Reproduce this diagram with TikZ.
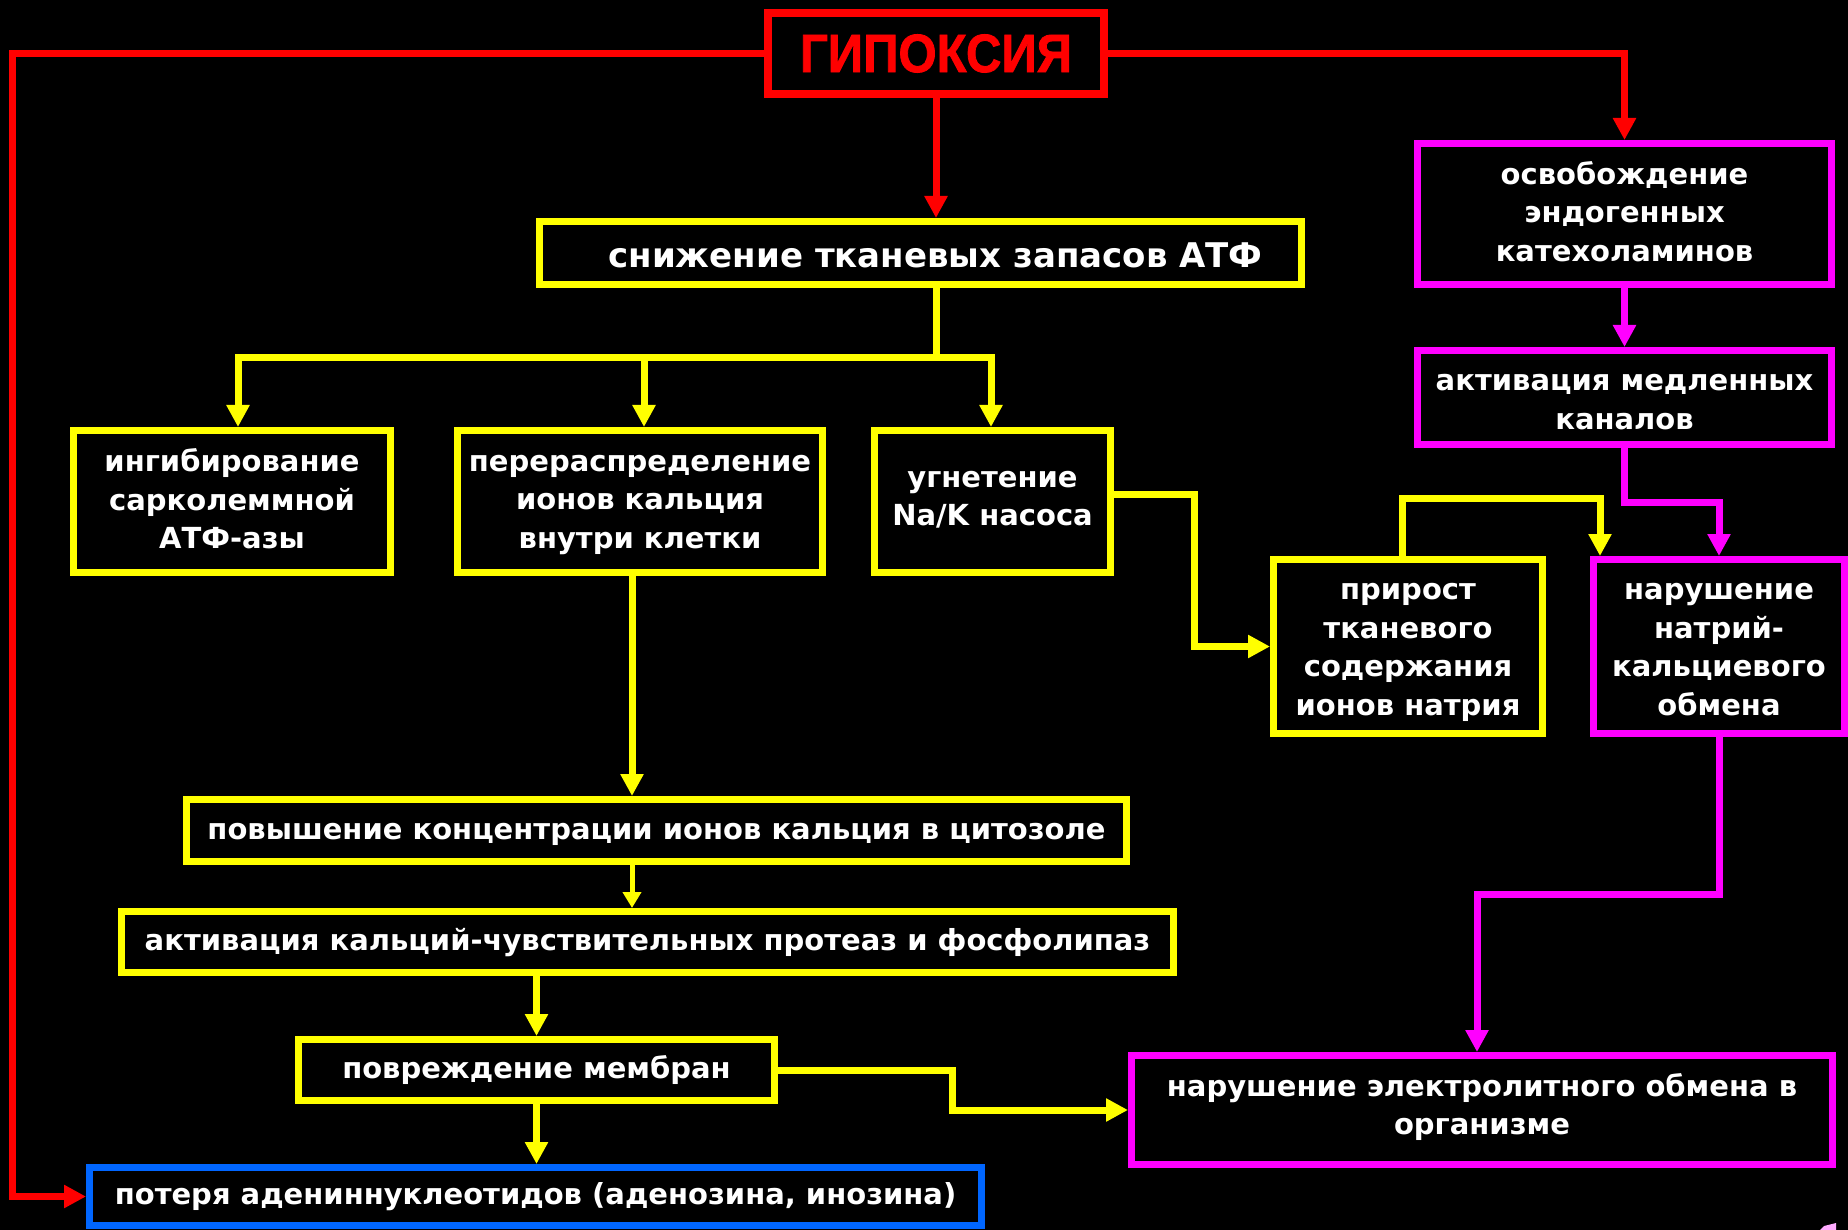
\documentclass[tikz,border=0pt]{standalone}
\usepackage{fontspec}
\setmainfont{DejaVu Sans}
\newfontfamily\hypfont{Liberation Sans Bold}[FakeBold=1.5]
\usetikzlibrary{arrows.meta,calc}
\definecolor{cred}{RGB}{255,0,0}
\definecolor{cyel}{RGB}{255,255,0}
\definecolor{cmag}{RGB}{255,0,255}
\definecolor{cblue}{RGB}{0,102,255}
\definecolor{cpink}{RGB}{255,170,255}
\newcommand\ls{\rule[-6.1pt]{0pt}{29.3pt}}
\begin{document}
\begin{tikzpicture}[x=1pt,y=-1pt,
  box/.style={draw, line width=7pt, fill=black, inner sep=0pt, align=center, text=white,
    font=\bfseries\fontsize{29}{38.5}\selectfont},
  ybox/.style={box, draw=cyel},
  mbox/.style={box, draw=cmag},
  bbox/.style={box, draw=cblue},
  tip/.style={-{Triangle[length=22pt,width=22pt]}},
  rarr/.style={draw=cred, line width=7pt, tip},
  yarr/.style={draw=cyel, line width=7pt, tip},
  yline/.style={draw=cyel, line width=7pt},
  ythin/.style={draw=cyel, line width=5pt, -{Triangle[length=16pt,width=18pt]}},
  marr/.style={draw=cmag, line width=7pt, tip}]
\useasboundingbox (0,0) rectangle (1848,1230);
\fill[black] (0,0) rectangle (1848,1230);

% nodes
\node[draw=cred, line width=8pt, fill=black, inner sep=0pt, text=cred,
  minimum width=336pt, minimum height=81pt] (hyp) at (936,53.5)
  {\resizebox{272pt}{\height}{\hypfont\fontsize{54}{60}\selectfont ГИПОКСИЯ}};
\node[ybox, minimum width=762pt, minimum height=63pt, font=\bfseries\fontsize{34}{40}\selectfont]
  (atp) at (920.5,253) {\hspace*{30pt}\rule[-1pt]{0pt}{32pt}снижение тканевых запасов АТФ};
\node[ybox, minimum width=317pt, minimum height=142pt] (inh) at (232,501.5)
  {\ls ингибирование\\\ls сарколеммной\\\ls АТФ-азы};
\node[ybox, minimum width=365pt, minimum height=142pt] (redis) at (640,501.5)
  {\ls перераспределение\\\ls ионов кальция\\\ls внутри клетки};
\node[ybox, minimum width=236pt, minimum height=142pt] (pump) at (992.5,501.5)
  {\ls угнетение\\\rule[-13.1pt]{0pt}{36.3pt}Na/K насоса};
\node[mbox, minimum width=414pt, minimum height=141pt] (cat) at (1624.5,214)
  {\ls освобождение\\\ls эндогенных\\\ls катехоламинов};
\node[mbox, minimum width=414pt, minimum height=94pt] (slow) at (1624.5,397.5)
  {\rule[-6.1pt]{0pt}{37.3pt}активация медленных\\\ls каналов};
\node[mbox, minimum width=251pt, minimum height=174pt] (ncx) at (1719,646.5)
  {\rule[-6.1pt]{0pt}{34.3pt}нарушение\\\ls натрий-\\\ls кальциевого\\\ls обмена};
\node[ybox, minimum width=269pt, minimum height=174pt] (na) at (1408,646.5)
  {\rule[-6.1pt]{0pt}{34.3pt}прирост\\\ls тканевого\\\ls содержания\\\ls ионов натрия};
\node[ybox, minimum width=940pt, minimum height=62pt] (cyto) at (656.5,830.5)
  {\ls повышение концентрации ионов кальция в цитозоле};
\node[ybox, minimum width=1052pt, minimum height=61pt] (prot) at (647.5,942)
  {\ls активация кальций-чувствительных протеаз и фосфолипаз};
\node[ybox, minimum width=476pt, minimum height=61pt] (memb) at (536.5,1070)
  {\ls повреждение мембран};
\node[bbox, minimum width=892pt, minimum height=58pt] (loss) at (535.5,1196.5)
  {\ls потеря адениннуклеотидов (аденозина, инозина)};
\node[mbox, minimum width=701pt, minimum height=109pt] (elec) at (1482,1110)
  {\ls нарушение электролитного обмена в\\\rule[-12pt]{0pt}{35.2pt}организме};

% coordinates
\coordinate (lx) at (12,0);
\coordinate (bus) at (936,358);
\coordinate (ba) at (238,358);
\coordinate (bb) at (644,358);
\coordinate (bc) at (991,358);
\coordinate (vx) at (632,0);
\coordinate (mx) at (952,0);
\coordinate (py) at (0,494);
\coordinate (jx) at (1194,0);
\coordinate (ny) at (1402,498);
\coordinate (nx) at (1600,498);
\coordinate (my) at (0,502);
\coordinate (ey) at (1477,894);

% red connectors
\draw[rarr] (hyp.west) -- (hyp.west -| lx) |- (loss.west);
\draw[rarr] (hyp.east) -| (cat.north);
\draw[rarr] (hyp.south) -- (hyp.south |- atp.north);

% yellow connectors
\draw[yline] (atp.south -| bus) -- (bus);
\draw[yarr] (bus) -| (ba |- inh.north);
\draw[yarr] (bus) -| (bc |- pump.north);
\draw[yarr] (bb) -- (bb |- redis.north);
\draw[yarr] (redis.south -| vx) -- (cyto.north -| vx);
\draw[ythin] (cyto.south -| vx) -- (prot.north -| vx);
\draw[yarr] (prot.south -| memb.north) -- (memb.north);
\draw[yarr] (memb.south) -- (memb.south |- loss.north);
\draw[yarr] (memb.east) -| (mx |- elec.west) -- (elec.west);
\draw[yarr] (pump.east |- py) -| (jx |- na.west) -- (na.west);
\draw[yarr] (na.north -| ny) -- (ny) -- (nx) -- (nx |- ncx.north);

% magenta connectors
\draw[marr] (cat.south) -- (slow.north);
\draw[marr] (slow.south) -- (slow.south |- my) -| (ncx.north);
\draw[marr] (ncx.south) -- (ncx.south |- ey) -- (ey) -- (ey |- elec.north);

\fill[cpink] (1820,1230) -- (1824,1226) -- (1836,1223) -- (1836,1230) -- cycle;
\end{tikzpicture}
\end{document}
